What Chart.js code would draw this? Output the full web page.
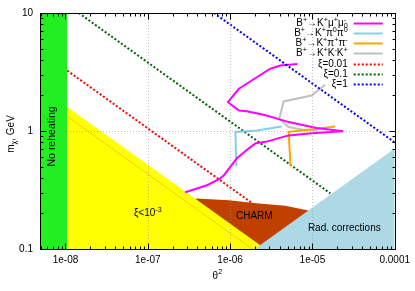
<!DOCTYPE html>
<html><head><meta charset="utf-8">
<script src="https://cdn.jsdelivr.net/npm/chart.js@4"></script>
<style>html,body{margin:0;padding:0;background:#fff}canvas{display:block}</style>
</head><body>
<canvas id="c" width="415" height="291"></canvas>
<script>
// ---- axis ranges & ticks ----
const xRange = [4.9e-9, 1e-4];
const yRange = [0.1, 10];
const xTickValues = [1e-8, 1e-7, 1e-6, 1e-5, 1e-4];
const xTickLabels = ['1e-08', '1e-07', '1e-06', '1e-05', '0.0001'];
const yTickValues = [0.1, 1, 10];
const yTickLabels = ['0.1', '1', '10'];

// ---- curves ----
const kmumuX = [2.85e-7,5.25e-7,7.33e-7,8.41e-7,1.21e-6,1.69e-6,2.05e-6,2.71e-6,5.14e-6,9.75e-6,2.37e-5,1.12e-5,5.14e-6,2.71e-6,1.60e-6,1.28e-6,9.40e-7,1.28e-6,1.83e-6,3.08e-6,4.07e-6,6.59e-6];
const kmumuY = [0.303,0.347,0.390,0.422,0.587,0.713,0.787,0.809,0.918,0.955,0.993,1.06,1.19,1.36,1.47,1.49,1.76,2.28,2.68,3.37,3.59,3.69];
const kpi0X = [1.19e-6,1.16e-6,2.13e-6,4.23e-6];
const kpi0Y = [0.503,0.98,1.01,1.09];
const kpipiX = [5.43e-6,5.14e-6,9.75e-6,1.88e-5];
const kpipiY = [0.503,0.984,1.03,1.09];
const kkkX = [1.43e-5,9.75e-6,4.47e-6,3.96e-6,5.14e-6,7.43e-6,1.18e-5];
const kkkY = [2.47,2.00,1.78,1.27,1.08,1.03,1.01];

// ---- xi lines ----
const xi001X = [1.05e-8, 2.2e-6];  const xi001Y = [3.25, 0.2245];
const xi01X  = [1.45e-8, 1.65e-5]; const xi01Y  = [10, 0.296];
const xi1X   = [6.37e-7, 1e-4];    const xi1Y   = [10, 0.80];
const xi0001X = [1.05e-8, 1.86e-6]; const xi0001Y = [1.33, 0.1];

// ---- regions (upper boundaries) ----
const noReheatX = [1e-9, 1.05e-8];  const noReheatY = [10, 10];
const smallXiX = [1.05e-8, 2.69e-6]; const smallXiY = [1.6, 0.1];
const charmX = [3.83e-7, 9.66e-7, 2.23e-6, 4.69e-6, 8.95e-6];
const charmY = [0.268, 0.259, 0.243, 0.232, 0.212];
const radX = [1.99e-6, 1e-4]; const radY = [0.1, 0.709];

// ---- legend & labels ----
const legendLabels = ['B^+→K^+μ^+μ^-_0','B^+→K^+π^0π^0','B^+→K^+π^+π^-','B^+→K^+K^-K^+','ξ=0.01','ξ=0.1','ξ=1'];
const regionLabels = [
  {text:'No reheating', x:6.9e-9, y:0.9, rot:true},
  {text:'ξ<10^-^3', x:1.0e-7, y:0.2, rot:false},
  {text:'CHARM', x:1.97e-6, y:0.19, rot:false},
  {text:'Rad. corrections', x:2.44e-5, y:0.15, rot:false}
];
const xTitle = 'θ^2';
const yTitle = 'm_χ, GeV';

const FONT = 'Liberation Sans, Arial, sans-serif';
function pts(xs, ys) { return xs.map((v, i) => ({x: v, y: ys[i]})); }

const datasets = [
  {data: pts(kmumuX, kmumuY), borderColor:'#ff00ff', borderWidth:2, order:10, legend:0},
  {data: pts(kpi0X, kpi0Y), borderColor:'#87ceeb', borderWidth:2, order:11, legend:1},
  {data: pts(kpipiX, kpipiY), borderColor:'#ffa500', borderWidth:2, order:12, legend:2},
  {data: pts(kkkX, kkkY), borderColor:'#c0c0c0', borderWidth:2, order:13, legend:3},
  {data: pts(xi001X, xi001Y), borderColor:'#ff0000', borderWidth:2, borderDash:[2,2], order:90, legend:4},
  {data: pts(xi01X, xi01Y), borderColor:'#006400', borderWidth:2, borderDash:[2,2], order:60, legend:5},
  {data: pts(xi1X, xi1Y), borderColor:'#0000ff', borderWidth:2, borderDash:[2,2], order:5, legend:6},
  {data: pts(xi0001X, xi0001Y), borderColor:'rgba(240,150,0,0.7)', borderWidth:0.7, order:65},
  {data: pts(charmX, charmY), borderWidth:0, backgroundColor:'#c04000', fill:'start', order:80},
  {data: pts(smallXiX, smallXiY), borderWidth:0, backgroundColor:'#ffff00', fill:'start', order:70},
  {data: pts(radX, radY), borderWidth:0, backgroundColor:'#add8e6', fill:'start', order:50},
  {data: pts(noReheatX, noReheatY), borderWidth:0, backgroundColor:'#22ee22', fill:'start', order:45}
];
datasets.forEach(d => { d.pointRadius = 0; d.tension = 0; d.clip = 0; if (d.fill === undefined) d.fill = false; });

function parseRich(s) {
  const out = [];
  for (let i = 0; i < s.length; i++) {
    const c = s[i];
    if ((c === '^' || c === '_') && i + 1 < s.length) { out.push({t: s[i+1], m: c === '^' ? 1 : -1}); i++; }
    else out.push({t: c, m: 0});
  }
  return out;
}
function rich(ctx, s, x, y, size, align, draw) {
  const toks = parseRich(s);
  const run = (doDraw, x0) => {
    let cx = x0, prevM = 0, scriptStart = 0, scriptW = 0;
    toks.forEach(tk => {
      const fs = tk.m === 0 ? size : size * 0.72;
      ctx.font = fs + 'px ' + FONT;
      const w = ctx.measureText(tk.t).width;
      let px = cx;
      if (tk.m !== 0 && prevM !== 0 && prevM !== tk.m) { px = scriptStart; }
      const dy = tk.m === 1 ? -size * 0.38 : (tk.m === -1 ? size * 0.28 : 0);
      if (doDraw) ctx.fillText(tk.t, px, y + dy);
      if (tk.m !== 0 && prevM !== 0 && prevM !== tk.m) {
        cx = scriptStart + Math.max(scriptW, w);
      } else {
        if (tk.m !== 0) { scriptStart = px; scriptW = w; }
        cx = px + w;
      }
      prevM = tk.m;
    });
    return cx - x0;
  };
  const w = run(false, 0);
  let x0 = x;
  if (align === 'right') x0 = x - w; else if (align === 'center') x0 = x - w / 2;
  ctx.textBaseline = 'middle';
  ctx.textAlign = 'left';
  if (draw !== false) run(true, x0);
  return w;
}

const overlay = {
  id: 'overlay',
  afterDatasetsDraw(chart) {
    const {ctx, chartArea: a, scales: {x, y}} = chart;
    ctx.save();
    // grid (front, faint dotted)
    ctx.strokeStyle = 'rgba(150,150,150,0.6)'; ctx.lineWidth = 1; ctx.setLineDash([1, 2]);
    xTickValues.forEach(v => {
      const p = Math.round(x.getPixelForValue(v)) + 0.5;
      if (p > a.left + 2 && p < a.right - 2) { ctx.beginPath(); ctx.moveTo(p, a.top); ctx.lineTo(p, a.bottom); ctx.stroke(); }
    });
    yTickValues.forEach(v => {
      const p = Math.round(y.getPixelForValue(v)) + 0.5;
      if (p > a.top + 2 && p < a.bottom - 2) { ctx.beginPath(); ctx.moveTo(a.left, p); ctx.lineTo(a.right, p); ctx.stroke(); }
    });
    ctx.setLineDash([]);
    // ticks
    ctx.strokeStyle = '#000'; ctx.lineWidth = 1;
    const L = Math.round(a.left) + 0.5, R = Math.round(a.right) + 0.5, T = Math.round(a.top) + 0.5, B = Math.round(a.bottom) + 0.5;
    for (let e = -9; e <= -4; e++) for (let m = 1; m <= 9; m++) {
      const v = m * Math.pow(10, e);
      if (v < xRange[0] * 0.999 || v > xRange[1] * 1.001) continue;
      const p = Math.round(x.getPixelForValue(v)) + 0.5, len = m === 1 ? 6 : 3;
      ctx.beginPath(); ctx.moveTo(p, B); ctx.lineTo(p, B - len); ctx.moveTo(p, T); ctx.lineTo(p, T + len); ctx.stroke();
    }
    for (let e = -1; e <= 1; e++) for (let m = 1; m <= 9; m++) {
      const v = m * Math.pow(10, e);
      if (v < yRange[0] * 0.999 || v > yRange[1] * 1.001) continue;
      const p = Math.round(y.getPixelForValue(v)) + 0.5, len = m === 1 ? 6 : 3;
      ctx.beginPath(); ctx.moveTo(L, p); ctx.lineTo(L + len, p); ctx.moveTo(R, p); ctx.lineTo(R - len, p); ctx.stroke();
    }
    // frame
    ctx.strokeRect(L, T, R - L, B - T);
    // region labels
    ctx.fillStyle = '#000';
    regionLabels.forEach(lb => {
      const px = x.getPixelForValue(lb.x), py = y.getPixelForValue(lb.y);
      if (lb.rot) {
        ctx.save(); ctx.translate(px, py); ctx.rotate(-Math.PI / 2);
        rich(ctx, lb.text, 0, 0, 10.5, 'center'); ctx.restore();
      } else rich(ctx, lb.text, px, py, 10, 'center');
    });
    // legend
    chart.data.datasets.forEach(d => {
      if (d.legend === undefined) return;
      const ry = Math.round(a.top + 9.5 + d.legend * 10.3) + 0.5;
      ctx.fillStyle = '#000';
      rich(ctx, legendLabels[d.legend], a.right - 47, ry, 10, 'right');
      ctx.strokeStyle = d.borderColor; ctx.lineWidth = 2; ctx.setLineDash(d.borderDash || []);
      ctx.beginPath(); ctx.moveTo(a.right - 41, ry); ctx.lineTo(a.right - 12, ry); ctx.stroke();
      ctx.setLineDash([]);
    });
    // axis titles
    ctx.fillStyle = '#000';
    rich(ctx, xTitle, (a.left + a.right) / 2, a.bottom + 27, 10, 'center');
    ctx.save(); ctx.translate(11.5, (a.top + a.bottom) / 2 + 3); ctx.rotate(-Math.PI / 2);
    rich(ctx, yTitle, 0, 0, 10, 'center'); ctx.restore();
    ctx.restore();
  }
};

new Chart(document.getElementById('c'), {
  type: 'line',
  data: {datasets},
  plugins: [overlay],
  options: {
    responsive: false, animation: false, devicePixelRatio: 1,
    layout: {padding: {top: 12, right: 19, left: 0, bottom: 0}},
    plugins: {legend: {display: false}, tooltip: {enabled: false}},
    font: {family: FONT, size: 10},
    scales: {
      x: {
        type: 'logarithmic', min: xRange[0], max: xRange[1], bounds: 'data',
        afterBuildTicks: s => { s.ticks = xTickValues.map(v => ({value: v})); },
        afterFit: s => { s.height = 42; },
        grid: {display: false, drawTicks: false}, border: {display: false},
        ticks: {autoSkip: false, maxRotation: 0, padding: 5, color: '#000', font: {family: FONT, size: 10},
          callback: (v, i) => xTickLabels[i]}
      },
      y: {
        type: 'logarithmic', min: yRange[0], max: yRange[1], bounds: 'data',
        afterBuildTicks: s => { s.ticks = yTickValues.map(v => ({value: v})); },
        afterFit: s => { s.width = 40; },
        grid: {display: false, drawTicks: false}, border: {display: false},
        ticks: {autoSkip: false, padding: 7, color: '#000', font: {family: FONT, size: 10},
          callback: (v, i) => yTickLabels[i]}
      }
    }
  }
});
</script>
</body></html>
